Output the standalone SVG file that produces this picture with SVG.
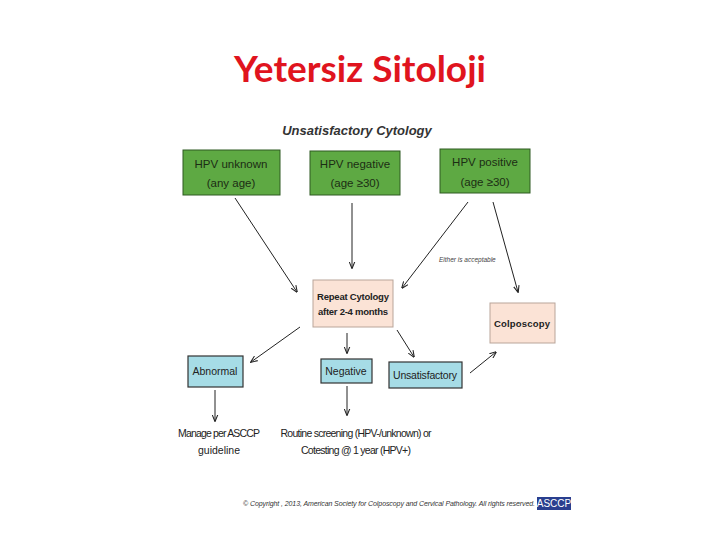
<svg xmlns="http://www.w3.org/2000/svg" width="720" height="540" viewBox="0 0 720 540">
<defs>
<style>
text{font-family:"Liberation Sans",Arial,sans-serif;fill:#222}
.g{fill:#5ea943;stroke:#2e5a22;stroke-width:1}
.p{fill:#fbe3d6;stroke:#b9a59a;stroke-width:1}
.b{fill:#a6dce6;stroke:#333;stroke-width:1.2}
.gt{font-size:11.5px;fill:#1c2d14;text-anchor:middle}
.t{font-size:10.5px;text-anchor:middle}
.bt{font-size:9.5px;font-weight:bold;text-anchor:middle}
.c line{stroke:#222;stroke-width:1;marker-end:url(#a)}
</style>
<marker id="a" viewBox="0 0 10 10" refX="9" refY="5" markerWidth="7" markerHeight="7" orient="auto"><path d="M0,1 L10,5 L0,9" fill="none" stroke="#222" stroke-width="1.5"/></marker>
</defs>
<rect width="720" height="540" fill="#fff"/>
<text x="360" y="82" font-size="37" font-weight="bold" style="font-family:Lato,'Open Sans',sans-serif;fill:#e0141e" text-anchor="middle">Yetersiz Sitoloji</text>
<text x="357" y="135" font-size="13" font-weight="bold" font-style="italic" text-anchor="middle" style="fill:#333">Unsatisfactory Cytology</text>
<g id="n1"><rect class="g" x="183" y="150" width="97" height="45"/><text class="gt" x="231" y="168">HPV  unknown</text><text class="gt" x="231" y="187">(any age)</text></g>
<g id="n2"><rect class="g" x="310" y="151" width="90" height="44"/><text class="gt" x="355" y="168">HPV negative</text><text class="gt" x="355" y="187">(age ≥30)</text></g>
<g id="n3"><rect class="g" x="440" y="149" width="90" height="44"/><text class="gt" x="485" y="166">HPV positive</text><text class="gt" x="485" y="186">(age ≥30)</text></g>
<g id="n4"><rect class="p" x="313" y="280" width="80" height="47"/><text class="bt" x="353" y="300" textLength="72">Repeat Cytology</text><text class="bt" x="353" y="315" textLength="70">after 2-4 months</text></g>
<g id="n5"><rect class="p" x="490" y="303" width="65" height="40"/><text class="bt" x="522" y="327" textLength="56">Colposcopy</text></g>
<g id="n6"><rect class="b" x="188" y="356" width="55" height="31"/><text class="t" x="215" y="375">Abnormal</text></g>
<g id="n7"><rect class="b" x="321" y="359" width="51" height="24"/><text class="t" x="346" y="375">Negative</text></g>
<g id="n8"><rect class="b" x="389" y="362" width="73" height="26"/><text class="t" x="425" y="379" textLength="64">Unsatisfactory</text></g>
<g id="n9"><text class="t" x="219" y="437" textLength="82">Manage per ASCCP</text><text class="t" x="219" y="454">guideline</text></g>
<g id="n10"><text class="t" x="356" y="437" textLength="151">Routine screening (HPV-/unknown) or</text><text class="t" x="356" y="454" textLength="110">Cotesting @ 1 year (HPV+)</text></g>
<g class="c" id="connectors">
<line x1="235" y1="198" x2="297" y2="292"/>
<line x1="352" y1="203" x2="352" y2="268"/>
<line x1="468" y1="202" x2="402" y2="288"/>
<line x1="493" y1="202" x2="518" y2="292"/>
<line x1="300" y1="327" x2="251" y2="362"/>
<line x1="347" y1="333" x2="347" y2="353"/>
<line x1="397" y1="330" x2="414" y2="357"/>
<line x1="470" y1="373" x2="496" y2="352"/>
<line x1="215" y1="390" x2="215" y2="421"/>
<line x1="347" y1="386" x2="347" y2="415"/>
</g>
<text x="439" y="262" font-size="6.5" font-style="italic" style="fill:#444">Either is acceptable</text>
<text x="243" y="506" font-size="7" font-style="italic" textLength="292" style="fill:#333">© Copyright , 2013, American Society for Colposcopy and Cervical Pathology.  All rights reserved.</text>
<rect x="537" y="497" width="34" height="13" fill="#2a3f8f"/>
<text x="554" y="507" font-size="10" text-anchor="middle" style="fill:#fff">ASCCP</text>
</svg>
